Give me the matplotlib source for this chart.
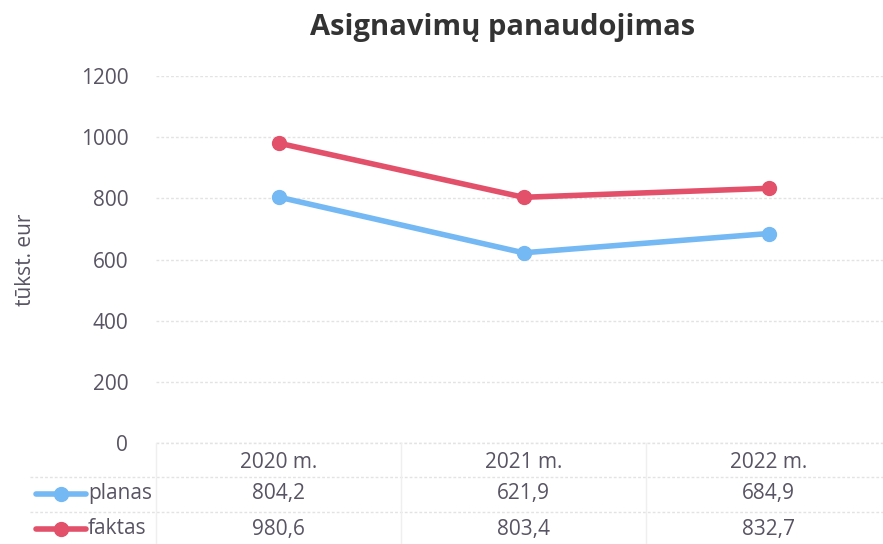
"""Asignavimų panaudojimas: line chart with a data table below."""
import matplotlib.pyplot as plt
from matplotlib.lines import Line2D
import matplotlib.transforms as mtransforms

years = ["2020 m.", "2021 m.", "2022 m."]
planas = [804.2, 621.9, 684.9]
faktas = [980.6, 803.4, 832.7]
series_names = ["planas", "faktas"]
yticks = [0, 200, 400, 600, 800, 1000, 1200]

BLUE = "#74b8f4"
RED = "#e2506a"
TEXT = "#595463"
GRID = "#e3e3e3"
FS = 15

plt.rcParams["font.family"] = ["Open Sans", "DejaVu Sans"]

fig = plt.figure(figsize=(8.83, 5.44), dpi=100)
ax = fig.add_axes([156 / 883, 1 - 443 / 544, 1 - 156 / 883, (443 - 76) / 544])

x = list(range(len(years)))
ax.plot(x, planas, color=BLUE, lw=4, marker="o", ms=10, solid_capstyle="round")
ax.plot(x, faktas, color=RED, lw=4, marker="o", ms=10, solid_capstyle="round")

ax.set_xlim(-0.5, -0.5 + 727 / 245)
ax.set_ylim(0, 1200)
ax.set_yticks(yticks)
ax.set_yticklabels([str(v) for v in yticks], fontsize=FS, color=TEXT)
ax.tick_params(axis="y", length=0, pad=20)
ax.set_xticks([])
ax.grid(axis="y", color=GRID, lw=1, ls=(0, (2, 1.5)))
ax.axhline(0, color=GRID, lw=1, ls=(0, (2, 1.5)), clip_on=False)
for s in ax.spines.values():
    s.set_visible(False)
ax.set_ylabel("tūkst. eur", fontsize=FS, color=TEXT, labelpad=32)

fig.text(503 / 883, 1 - 27 / 544, "Asignavimų panaudojimas", ha="center",
         va="center", fontsize=21, fontweight="bold", color="#333333")

# data table below the plot
tr = mtransforms.blended_transform_factory(ax.transData, fig.transFigure)
row_y = [1 - 462 / 544, 1 - 494 / 544, 1 - 529 / 544]
for i, yr in enumerate(years):
    fig.text(i, row_y[0], yr, transform=tr, ha="center", va="center",
             fontsize=FS, color=TEXT)
    fig.text(i, row_y[1], f"{planas[i]:.1f}".replace(".", ","), transform=tr,
             ha="center", va="center", fontsize=FS, color=TEXT)
    fig.text(i, row_y[2], f"{faktas[i]:.1f}".replace(".", ","), transform=tr,
             ha="center", va="center", fontsize=FS, color=TEXT)

for name, col, yy in zip(series_names, [BLUE, RED], row_y[1:]):
    fig.add_artist(Line2D([36 / 883, 86 / 883], [yy, yy], color=col, lw=4,
                          solid_capstyle="round"))
    fig.add_artist(Line2D([61 / 883], [yy], color=col, marker="o", ms=10))
    fig.text(88 / 883, yy, name, ha="left", va="center", fontsize=FS, color=TEXT)

# table grid lines
for yy in [1 - 477 / 544, 1 - 512 / 544]:
    fig.add_artist(Line2D([30 / 883, 1], [yy, yy], color=GRID, lw=1,
                          ls=(0, (2, 1.5))))
for i in range(len(years)):
    fig.add_artist(Line2D([i - 0.5, i - 0.5], [0, 1 - 443 / 544], transform=tr,
                          color="#efefef", lw=1))

fig.savefig("out.png", dpi=100)
